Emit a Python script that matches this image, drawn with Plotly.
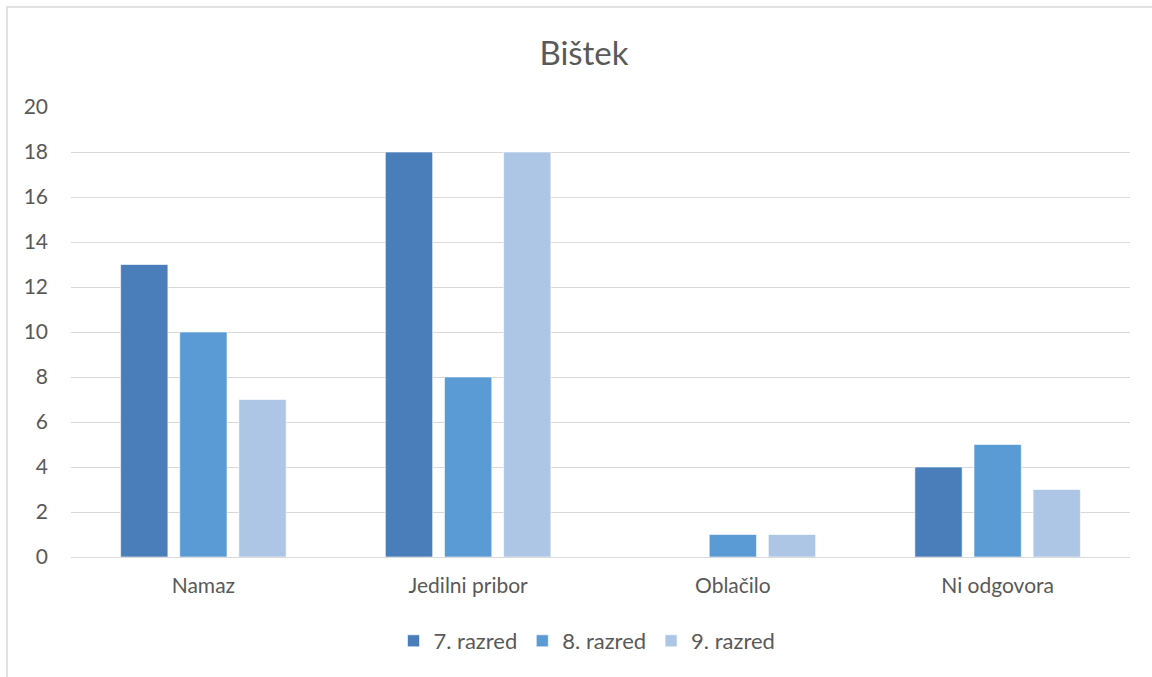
import plotly.graph_objects as go

categories = ["Namaz", "Jedilni pribor", "Oblačilo", "Ni odgovora"]
series_names = ["7. razred", "8. razred", "9. razred"]
values_7 = [13, 18, 0, 4]
values_8 = [10, 8, 1, 5]
values_9 = [7, 18, 1, 3]
colors = ["#4a7ebb", "#5b9bd5", "#adc6e6"]

W, H = 1152, 677
L, R, T, B = 71, 22, 107, 120
pw, ph = W - L - R, H - T - B

FONT = "Lato"
TXT = "#595959"

fig = go.Figure()
for name, vals, col in zip(series_names, [values_7, values_8, values_9], colors):
    fig.add_trace(go.Bar(
        x=categories, y=vals, name=name,
        marker=dict(color=col, line=dict(color="rgba(255,255,255,0.6)", width=1)),
    ))

fig.update_layout(
    width=W, height=H,
    margin=dict(l=L, r=R, t=T, b=B),
    paper_bgcolor="white", plot_bgcolor="white",
    barmode="group", bargap=0.33, bargroupgap=0.2,
    font=dict(family=FONT, color=TXT, size=21),
    title=dict(text="Bištek", x=(584 - L) / pw, xref="paper", xanchor="center",
               y=1 - 53 / H, yref="container", yanchor="middle",
               font=dict(size=33, color=TXT, family=FONT)),
    legend=dict(orientation="h", x=(587 - L) / pw, xanchor="center",
                y=(557 - 641) / ph, yanchor="middle",
                font=dict(size=22, color=TXT), traceorder="normal"),
    showlegend=True,
)
fig.update_yaxes(range=[0, 20], dtick=2, showgrid=True, gridcolor="#d9d9d9", gridwidth=1,
                 zeroline=False, showline=False, tickfont=dict(size=21, color=TXT),
                 ticklabelstandoff=22, fixedrange=True)
fig.update_xaxes(showline=True, linecolor="#d9d9d9", linewidth=1, showgrid=False,
                 tickfont=dict(size=21, color=TXT), ticklabelstandoff=10, ticks="")

fig.add_shape(type="rect", xref="paper", yref="paper",
              x0=(7 - L) / pw, x1=(1200 - L) / pw,
              y0=(557 - 720) / ph, y1=(557 - 7) / ph,
              line=dict(color="#d9d9d9", width=1.5), fillcolor="rgba(0,0,0,0)", layer="below")

fig.write_html("out.html")
